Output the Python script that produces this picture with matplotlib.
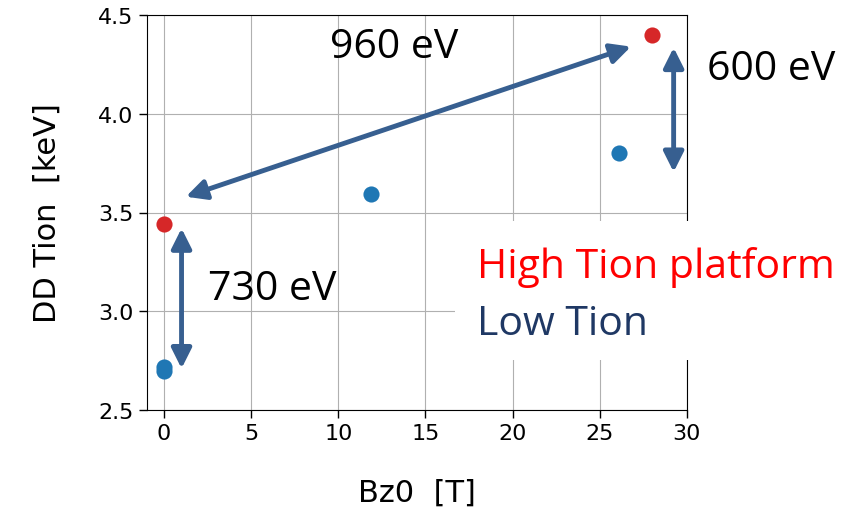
import numpy as np
import matplotlib
matplotlib.use("Agg")
import matplotlib.pyplot as plt
from matplotlib.patches import FancyArrowPatch, Rectangle

# data
high_bz = [0.0, 28.0]
high_tion = [3.44, 4.40]
low_bz = [0.0, 0.0, 11.85, 26.1]
low_tion = [2.695, 2.72, 3.595, 3.80]

# arrows: (x0, y0, x1, y1) in data units
arrows = [
    (1.0, 3.42, 1.0, 2.71),      # 730 eV
    (29.25, 4.335, 29.25, 3.705),  # 600 eV
    (1.25, 3.58, 26.8, 4.34),    # 960 eV
]
arrow_col = "#375f90"

W, H = 861, 510
fig = plt.figure(figsize=(W / 100, H / 100), dpi=100)
ax = fig.add_axes([146.7 / W, 1 - 411 / H, 540 / W, 395 / H])

ax.scatter(low_bz, low_tion, s=135, color="#1f77b4", zorder=3, linewidths=0)
ax.scatter(high_bz, high_tion, s=135, color="#d62728", zorder=3, linewidths=0)

ax.set_xlim(-1, 30)
ax.set_ylim(2.5, 4.5)
ax.set_xticks([0, 5, 10, 15, 20, 25, 30])
ax.set_yticks([2.5, 3.0, 3.5, 4.0, 4.5])
ax.grid(True, color="#b0b0b0", lw=0.8)
ax.set_axisbelow(True)
ax.tick_params(labelsize=16, length=6, width=1)

ax.set_xlabel("Bz0  [T]", fontsize=22)
ax.set_ylabel("DD Tion  [keV]", fontsize=22)
ax.xaxis.set_label_coords(0.5, -0.172)
ax.yaxis.set_label_coords(-0.158, 0.5)

for x0, y0, x1, y1 in arrows:
    a = FancyArrowPatch((x0, y0), (x1, y1), arrowstyle="<|-|>,head_length=0.6,head_width=0.3",
                        mutation_scale=20, color=arrow_col, lw=3.5, shrinkA=0, shrinkB=0,
                        zorder=4, clip_on=False)
    ax.add_patch(a)

# white box over the lower right (covers spine, like the slide)
fig.patches.append(Rectangle((455 / W, 1 - 361 / H), (W - 455) / W, 139 / H,
                             transform=fig.transFigure, facecolor="white",
                             edgecolor="none", zorder=5))

fnt = "Open Sans"
fs = 29.5
fig.text(330 / W, 1 - 58 / H, "960 eV", fontsize=fs, family=fnt, va="baseline", zorder=6)
fig.text(707 / W, 1 - 80 / H, "600 eV", fontsize=fs, family=fnt, va="baseline", zorder=6)
fig.text(208 / W, 1 - 300 / H, "730 eV", fontsize=fs, family=fnt, va="baseline", zorder=6)
fig.text(477 / W, 1 - 278 / H, "High Tion platform", fontsize=fs, family=fnt,
         color="#ff0000", va="baseline", zorder=6)
fig.text(477 / W, 1 - 335 / H, "Low Tion", fontsize=fs, family=fnt,
         color="#1f3864", va="baseline", zorder=6)

fig.savefig("out.png", dpi=100)
